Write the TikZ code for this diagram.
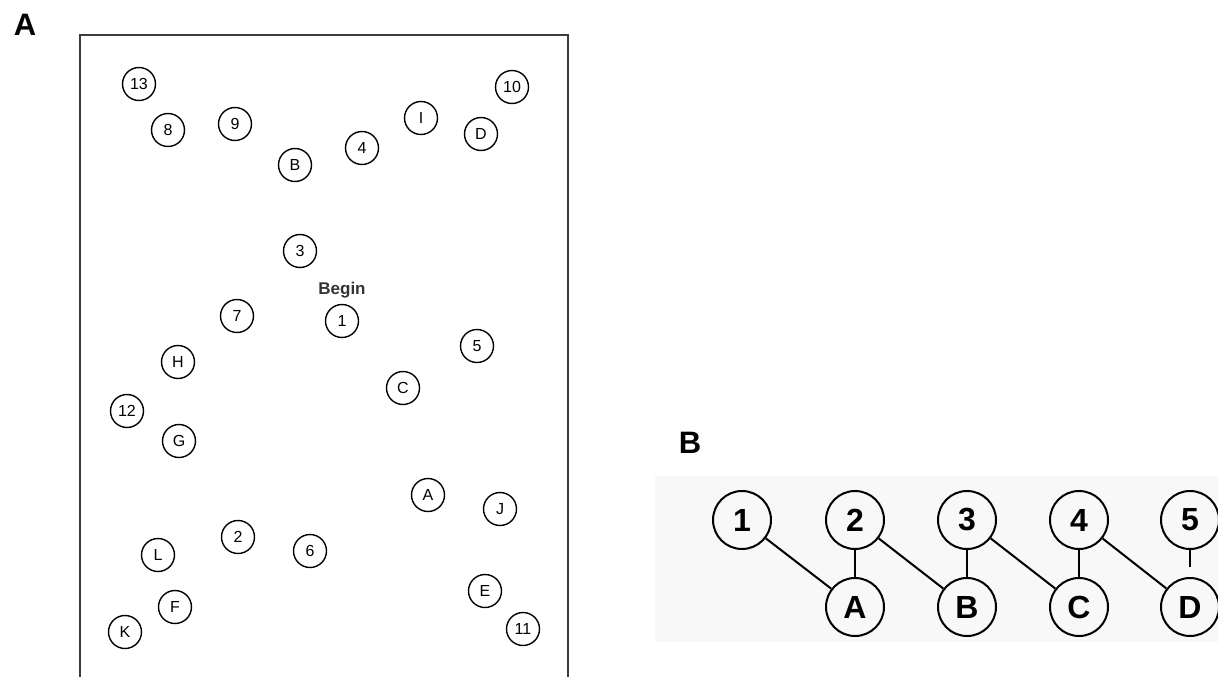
\documentclass[tikz,border=0pt]{standalone}
\usepackage{fontspec}
\setmainfont{Liberation Sans}
\usepackage{tikz}
\usetikzlibrary{positioning}
\definecolor{frgray}{RGB}{60,60,60}
\definecolor{bgpanel}{RGB}{248,248,248}

\begin{document}
\begin{tikzpicture}[x=1pt, y=-1pt,
  spot/.style={circle, draw=black, line width=1.4pt, minimum size=33pt,
               inner sep=0pt, font=\fontsize{16}{16}\selectfont},
  pair/.style={circle, draw=black, line width=2pt, minimum size=58pt,
               inner sep=0pt, font=\fontsize{32}{32}\selectfont\bfseries},
  link/.style={line width=2pt, black},
  panel/.style={font=\fontsize{31}{31}\selectfont\bfseries}]
  \useasboundingbox (0,0) rectangle (1218,677);

  % Panel labels
  \node[panel] (labA) at (25,25) {A};
  \node[panel] (labB) at (690,443) {B};

  % Panel A: sheet with scattered targets
  \draw[frgray, line width=2pt] (80,677) -- (80,35) -- (568,35) -- (568,677);
  \node[spot] (a13) at (139,84) {13};
  \node[spot] (a8) at (168,130) {8};
  \node[spot] (a9) at (235,124) {9};
  \node[spot] (aB) at (295,165) {B};
  \node[spot] (a4) at (362,148) {4};
  \node[spot] (aI) at (421,118) {I};
  \node[spot] (aD) at (481,134) {D};
  \node[spot] (a10) at (512,87) {10};
  \node[spot] (a3) at (300,251) {3};
  \node[font=\fontsize{17}{17}\selectfont\bfseries, text=black!80]
    (begin) at (342,290) {Begin};
  \node[spot] (a7) at (237,316) {7};
  \node[spot] (a1) at (342,321) {1};
  \node[spot] (a5) at (477,346) {5};
  \node[spot] (aH) at (178,362) {H};
  \node[spot] (aC) at (403,388) {C};
  \node[spot] (a12) at (127,411) {12};
  \node[spot] (aG) at (179,441) {G};
  \node[spot] (aA) at (428,495) {A};
  \node[spot] (aJ) at (500,509) {J};
  \node[spot] (a2) at (238,537) {2};
  \node[spot] (a6) at (310,551) {6};
  \node[spot] (aL) at (158,555) {L};
  \node[spot] (aE) at (485,591) {E};
  \node[spot] (aF) at (175,607) {F};
  \node[spot] (aK) at (125,632) {K};
  \node[spot] (a11) at (523,629) {11};

  % Panel B: alternating sequence
  \fill[bgpanel] (655,476) rectangle (1218,642);
  \node[pair] (t1) at (742,520) {1};
  \node[pair] (t2) at (855,520) {2};
  \node[pair] (t3) at (967,520) {3};
  \node[pair] (t4) at (1079,520) {4};
  \node[pair] (t5) at (1190,520) {5};
  \node[pair] (bA) at (855,607) {A};
  \node[pair] (bB) at (967,607) {B};
  \node[pair] (bC) at (1079,607) {C};
  \node[pair] (bD) at (1190,607) {D};

  % Connectors
  \draw[link] (t1) -- (bA);
  \draw[link] (t2) -- (bA);
  \draw[link] (t2) -- (bB);
  \draw[link] (t3) -- (bB);
  \draw[link] (t3) -- (bC);
  \draw[link] (t4) -- (bC);
  \draw[link] (t4) -- (bD);
  \draw[link, shorten >=10pt] (t5) -- (bD);
\end{tikzpicture}
\end{document}
